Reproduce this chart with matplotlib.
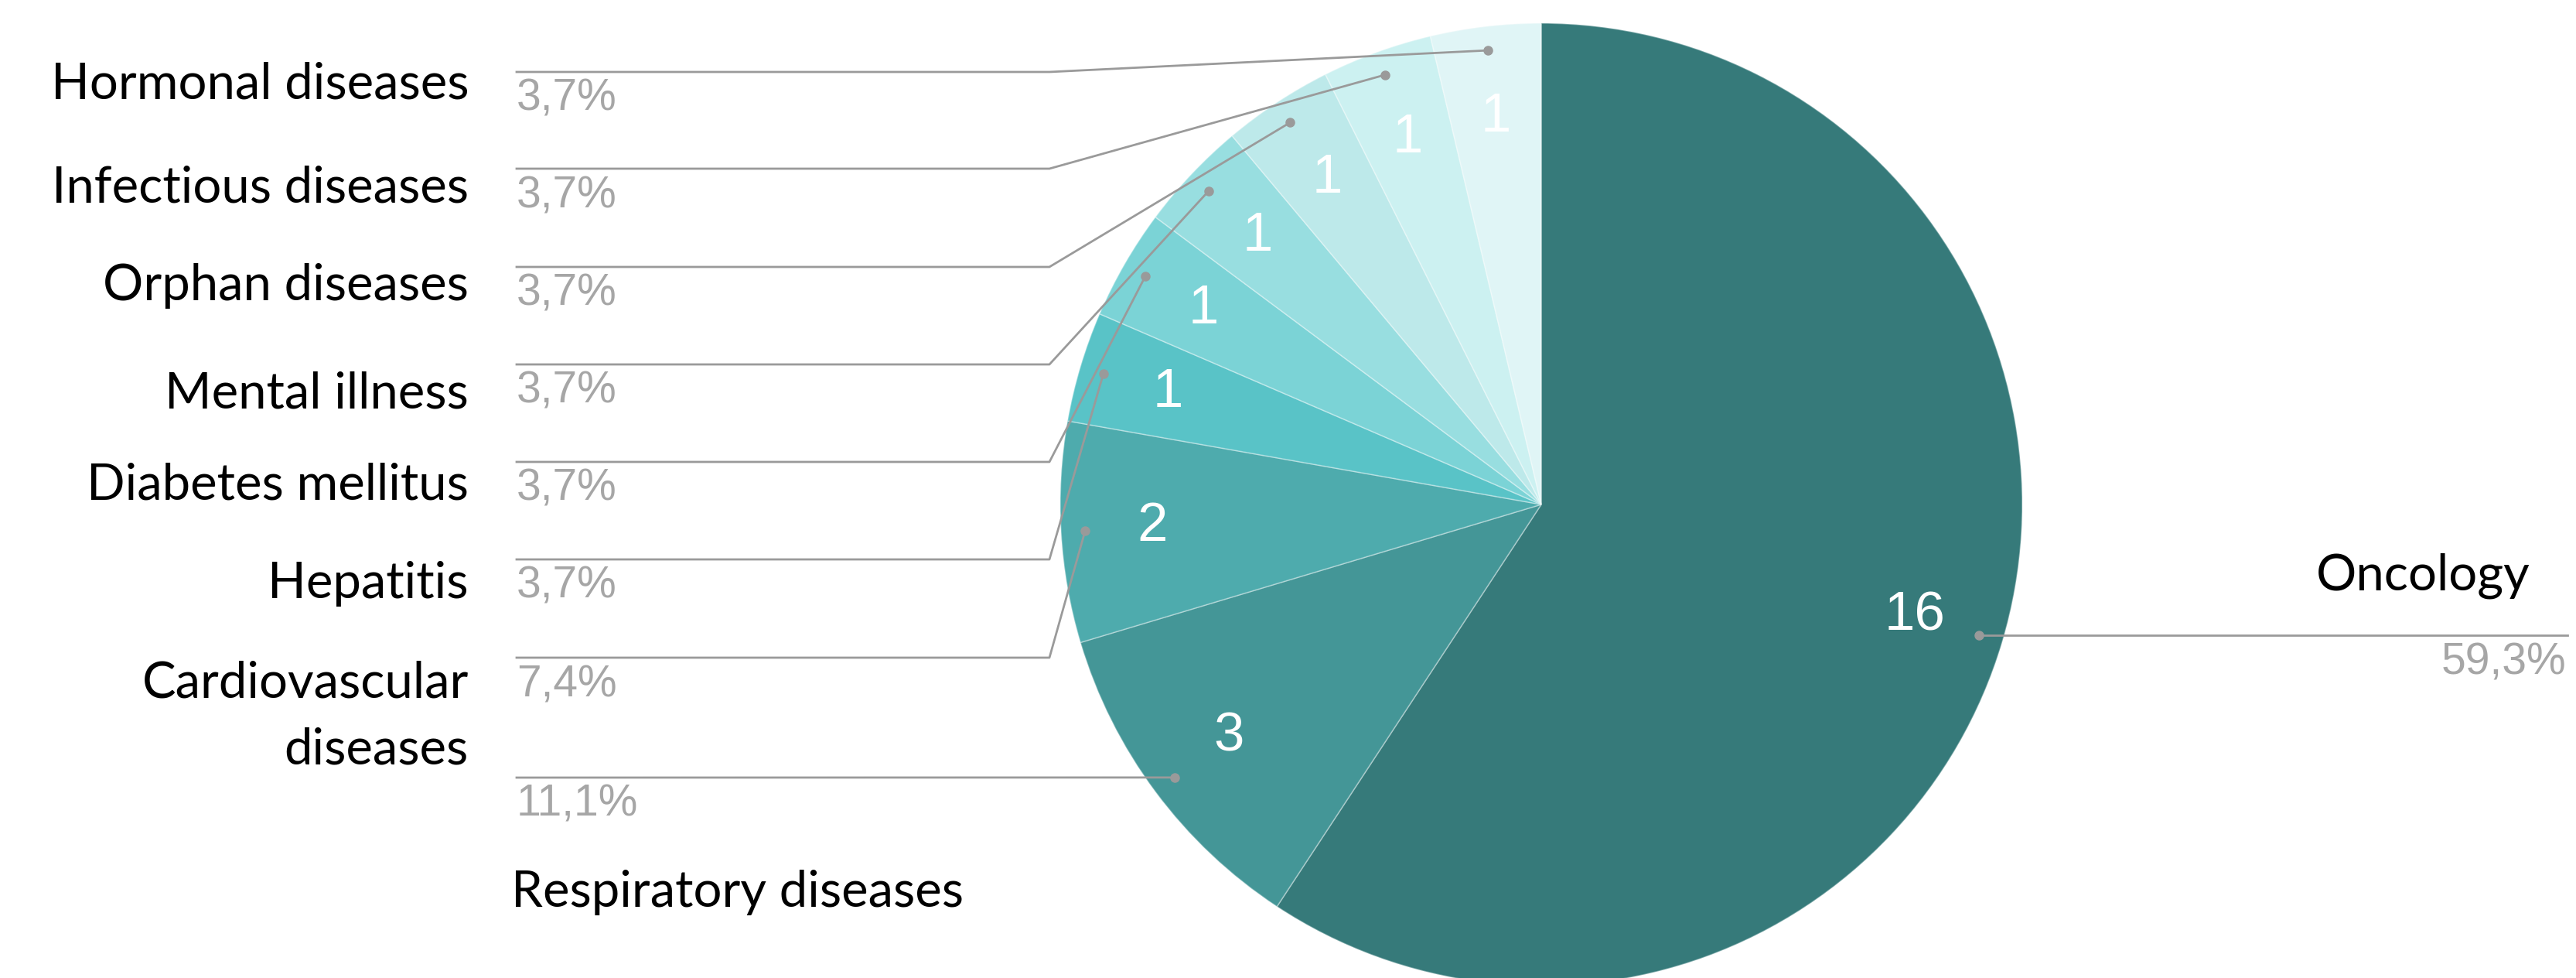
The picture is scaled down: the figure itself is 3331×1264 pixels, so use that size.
import matplotlib
matplotlib.use("Agg")
import matplotlib.pyplot as plt
import numpy as np

# data (clockwise from 12 o'clock)
categories = ["Oncology", "Respiratory diseases", "Cardiovascular\ndiseases", "Hepatitis",
              "Diabetes mellitus", "Mental illness", "Orphan diseases",
              "Infectious diseases", "Hormonal diseases"]
counts = [16, 3, 2, 1, 1, 1, 1, 1, 1]
percent_labels = ["59,3%", "11,1%", "7,4%", "3,7%", "3,7%", "3,7%", "3,7%", "3,7%", "3,7%"]
colors = ["#367a7a", "#449697", "#4eabad", "#59c3c7", "#7bd3d6",
          "#98dee0", "#bde9ea", "#ccf1f1", "#e0f5f6"]

W, H = 3331, 1264
fig = plt.figure(figsize=(W / 100, H / 100), dpi=100)
ax = fig.add_axes([0, 0, 1, 1])

cx, cy, R = 1993, H - 652, 622  # pie centre / radius in pixels

wedges, _ = ax.pie(counts, colors=colors, startangle=90, counterclock=False,
                   center=(cx, cy), radius=R,
                   wedgeprops=dict(linewidth=1.2, edgecolor=(1, 1, 1, 0.35)))

ax.set_xlim(0, W)
ax.set_ylim(0, H)
ax.set_aspect("equal")
ax.axis("off")

line_col = "#9a9a9a"
pct_col = "#a6a6a6"
label_font = "Lato"
num_font = "Liberation Sans"
label_size = 47
pct_size = 41

# left-side rows: index into categories -> (line y, label baseline y) in image px
left_rows = {8: (93, 128), 7: (218, 262), 6: (345, 388), 5: (471, 527),
             4: (597, 645), 3: (723, 773), 2: (850, 902)}
x_start, x_elbow, x_text = 668, 1357, 606

def mid_point(w, frac):
    ang = np.deg2rad((w.theta1 + w.theta2) / 2)
    return cx + frac * R * np.cos(ang), cy + frac * R * np.sin(ang)

# value labels inside the wedges
for i, w in enumerate(wedges):
    vx, vy = mid_point(w, 0.81)
    ax.text(vx, vy, str(counts[i]), color="white", fontsize=51, family=num_font,
            ha="center", va="center")

for i, (yl, yb) in left_rows.items():
    dx, dy = mid_point(wedges[i], 0.95)
    ax.plot([x_start, x_elbow, dx], [H - yl, H - yl, dy], color=line_col, lw=2)
    ax.plot(dx, dy, "o", color=line_col, ms=8)
    if "\n" in categories[i]:
        l1, l2 = categories[i].split("\n")
        ax.text(x_text, H - yb, l1, ha="right", va="baseline", fontsize=label_size, family=label_font)
        ax.text(x_text, H - yb - 86, l2, ha="right", va="baseline", fontsize=label_size, family=label_font)
    else:
        ax.text(x_text, H - yb, categories[i], ha="right", va="baseline", fontsize=label_size,
                family=label_font)
    ax.text(x_start, H - yl - 8, percent_labels[i], ha="left", va="top", fontsize=pct_size,
            family=num_font, color=pct_col)

# respiratory: straight line below the pie's left side
dx, dy = mid_point(wedges[1], 0.95)
ax.plot([x_start, dx], [H - 1005, dy], color=line_col, lw=2)
ax.plot(dx, dy, "o", color=line_col, ms=8)
ax.text(x_start, H - 1005 - 8, percent_labels[1], ha="left", va="top", fontsize=pct_size,
        family=num_font, color=pct_col)
ax.text(661, H - 1172, categories[1], ha="left", va="baseline", fontsize=label_size, family=label_font)

# oncology on the right
dx, dy = mid_point(wedges[0], 0.95)
ax.plot([dx, 3320], [dy, dy], color=line_col, lw=2)
ax.plot(dx, dy, "o", color=line_col, ms=8)
ax.text(3272, H - 762, categories[0], ha="right", va="baseline", fontsize=label_size, family=label_font)
ax.text(3318, dy - 8, percent_labels[0], ha="right", va="top", fontsize=pct_size,
        family=num_font, color=pct_col)

fig.savefig("out.png", dpi=100, facecolor="white")
